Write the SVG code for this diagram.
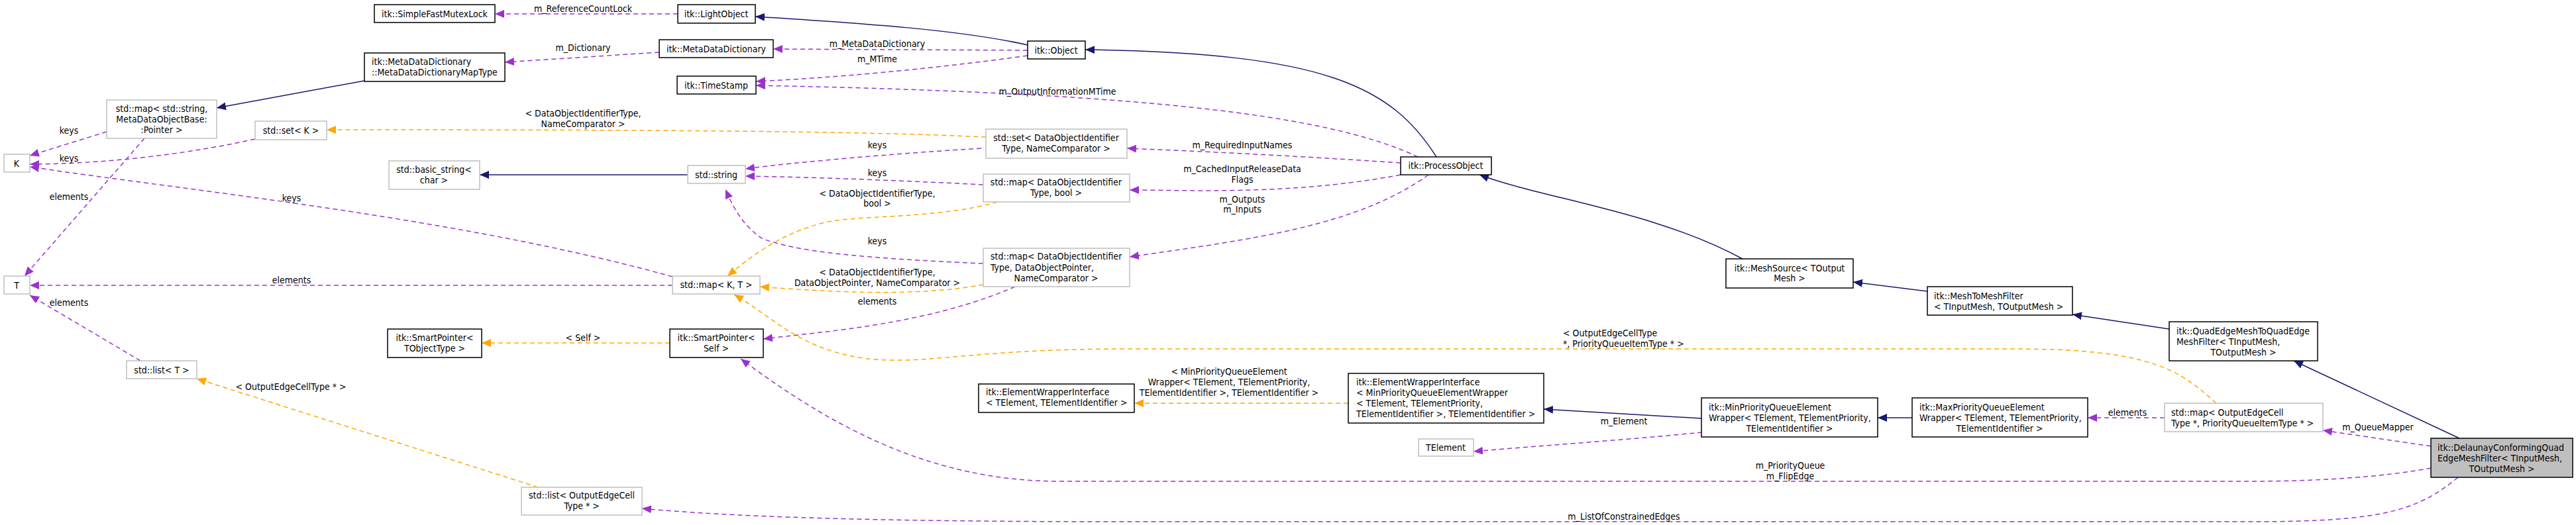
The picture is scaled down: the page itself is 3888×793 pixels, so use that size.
<svg xmlns="http://www.w3.org/2000/svg" width="3888" height="793" viewBox="0 0 3888 793">
<style>
text{font-family:"DejaVu Sans Condensed","DejaVu Sans","Liberation Sans",sans-serif;font-size:14px;fill:#000}
.c{text-anchor:middle}
.b{fill:#fff;stroke:#000;stroke-width:1.5}
.g{fill:#fff;stroke:#bfbfbf;stroke-width:1.5}
.h{fill:#bfbfbf;stroke:#000;stroke-width:1.5}
.i{fill:none;stroke:#191970;stroke-width:1.5;marker-end:url(#mi)}
.u{fill:none;stroke:#9a32cd;stroke-width:1.5;stroke-dasharray:7,5;marker-end:url(#mu)}
.t{fill:none;stroke:#ffa500;stroke-width:1.5;stroke-dasharray:7,5;marker-end:url(#mt)}
</style>
<defs>
<marker id="mi" markerUnits="userSpaceOnUse" markerWidth="15" markerHeight="12" refX="14" refY="6" orient="auto"><path d="M0,0 L14,6 L0,12 z" fill="#191970"/></marker>
<marker id="mu" markerUnits="userSpaceOnUse" markerWidth="15" markerHeight="12" refX="14" refY="6" orient="auto"><path d="M0,0 L14,6 L0,12 z" fill="#9a32cd"/></marker>
<marker id="mt" markerUnits="userSpaceOnUse" markerWidth="15" markerHeight="12" refX="14" refY="6" orient="auto"><path d="M0,0 L14,6 L0,12 z" fill="#ffa500"/></marker>
</defs>
<rect width="3888" height="793" fill="#fff"/>
<g id="edges">
<path class="u" d="M1023,21 L747,21"/><text class="c" x="880" y="18">m_ReferenceCountLock</text>
<path class="i" d="M1551,68 C1450,45 1300,35 1140,25"/>
<path class="i" d="M2168,237 C2100,130 2000,80 1638,75"/>
<path class="u" d="M1551,76 L1167,74"/><text class="c" x="1324" y="71">m_MetaDataDictionary</text>
<path class="u" d="M1551,84 C1400,105 1250,118 1141,123"/><text class="c" x="1324" y="94">m_MTime</text>
<path class="u" d="M2140,237 C2000,170 1700,140 1141,129"/><text class="c" x="1596" y="143">m_OutputInformationMTime</text>
<path class="u" d="M995,79 L762,94"/><text class="c" x="880" y="77">m_Dictionary</text>
<path class="i" d="M550,122 L327,163"/>
<path class="u" d="M161,199 L45,235"/><text class="c" x="104" y="202">keys</text>
<path class="u" d="M385,210 C250,240 120,248 45,248"/><text class="c" x="104" y="244">keys</text>
<path class="u" d="M1015,418 C700,330 300,290 45,252"/><text class="c" x="440" y="304">keys</text>
<path class="u" d="M218,209 L37,417"/><text class="c" x="104" y="302">elements</text>
<path class="u" d="M1015,431 L45,431"/><text class="c" x="440" y="428">elements</text>
<path class="u" d="M212,545 L45,446"/><text class="c" x="104" y="462">elements</text>
<path class="t" d="M1488,207 C1300,198 1000,196 493,196"/><text class="c" x="880" y="176">&lt; DataObjectIdentifierType,</text><text class="c" x="880" y="192">NameComparator &gt;</text>
<path class="i" d="M1038,264 L724,264"/>
<path class="u" d="M1481,224 C1350,232 1200,245 1125,255"/><text class="c" x="1324" y="224">keys</text>
<path class="u" d="M1484,279 C1350,272 1200,267 1125,266"/><text class="c" x="1324" y="266">keys</text>
<path class="u" d="M1484,398 C1300,390 1200,380 1150,360 C1120,340 1105,310 1095,286"/><text class="c" x="1324" y="369">keys</text>
<path class="t" d="M1505,305 C1420,330 1300,325 1250,335 C1180,350 1130,390 1098,417"/><text class="c" x="1324" y="297">&lt; DataObjectIdentifierType,</text><text class="c" x="1324" y="312">bool &gt;</text>
<path class="t" d="M1484,430 C1400,445 1300,445 1147,433"/><text class="c" x="1324" y="416">&lt; DataObjectIdentifierType,</text><text class="c" x="1324" y="432">DataObjectPointer, NameComparator &gt;</text>
<path class="u" d="M1532,433 C1400,490 1250,500 1152,512"/><text class="c" x="1324" y="460">elements</text>
<path class="t" d="M1011,518 L727,518"/><text class="c" x="880" y="515">&lt; Self &gt;</text>
<path class="u" d="M2114,246 C1950,235 1800,228 1701,224"/><text class="c" x="1875" y="224">m_RequiredInputNames</text>
<path class="u" d="M2114,264 C1950,295 1800,287 1705,287"/><text class="c" x="1875" y="260">m_CachedInputReleaseData</text><text class="c" x="1875" y="276">Flags</text>
<path class="u" d="M2156,264 C2050,340 1900,360 1705,388"/><text class="c" x="1875" y="306">m_Outputs</text><text class="c" x="1875" y="321">m_Inputs</text>
<path class="i" d="M2630,391 C2500,320 2330,300 2233,264"/>
<path class="i" d="M2909,440 L2797,426"/>
<path class="i" d="M3274,497 L3128,475"/>
<path class="i" d="M3712,662 L3462,545"/>
<path class="u" d="M3669,674 L3506,650"/><text class="c" x="3589" y="650">m_QueueMapper</text>
<path class="u" d="M3267,631 L3151,631"/><text class="c" x="3211" y="628">elements</text>
<path class="i" d="M2886,631 L2834,631"/>
<path class="i" d="M2569,632 L2330,618"/>
<path class="u" d="M2569,653 C2450,665 2300,675 2224,682"/><text class="c" x="2451" y="641">m_Element</text>
<path class="t" d="M2035,609 L1712,609"/><text class="c" x="1855" y="566">&lt; MinPriorityQueueElement</text><text class="c" x="1855" y="582">Wrapper&lt; TElement, TElementPriority,</text><text class="c" x="1855" y="598">TElementIdentifier &gt;, TElementIdentifier &gt;</text>
<path class="t" d="M3345,609 C3290,560 3250,527 3040,527 L1700,527 C1500,527 1420,545 1350,544 C1220,544 1170,480 1108,445"/><text x="2359" y="508">&lt; OutputEdgeCellType</text><text x="2359" y="524">*, PriorityQueueItemType * &gt;</text>
<path class="u" d="M3669,707 C3600,720 3500,727 3400,727 L1600,727 C1400,727 1250,640 1118,542"/><text class="c" x="2702" y="708">m_PriorityQueue</text><text class="c" x="2702" y="724">m_FlipEdge</text>
<path class="u" d="M3710,721 C3650,770 3600,788 3400,788 L1700,788 C1300,788 1100,780 969,768"/><text class="c" x="2451" y="785">m_ListOfConstrainedEdges</text>
<path class="t" d="M812,736 L297,572"/><text class="c" x="439" y="589">&lt; OutputEdgeCellType * &gt;</text>
</g>
<g id="n_mutex"><rect class="b" x="565" y="7" width="182" height="27"/><text class="c" x="656" y="26">itk::SimpleFastMutexLock</text></g>
<g id="n_light"><rect class="b" x="1023" y="7" width="117" height="28"/><text class="c" x="1081" y="26">itk::LightObject</text></g>
<g id="n_mdd"><rect class="b" x="995" y="60" width="172" height="27"/><text class="c" x="1081" y="79">itk::MetaDataDictionary</text></g>
<g id="n_ts"><rect class="b" x="1022" y="115" width="119" height="27"/><text class="c" x="1081" y="134">itk::TimeStamp</text></g>
<g id="n_obj"><rect class="b" x="1551" y="62" width="87" height="27"/><text class="c" x="1594" y="81">itk::Object</text></g>
<g id="n_maptype"><rect class="b" x="550" y="80" width="212" height="43"/><text x="561" y="98">itk::MetaDataDictionary</text><text x="561" y="114">::MetaDataDictionaryMapType</text></g>
<g id="n_mapstr"><rect class="g" x="161" y="151" width="166" height="58"/><text class="c" x="244" y="169">std::map&lt; std::string,</text><text class="c" x="244" y="185">MetaDataObjectBase:</text><text class="c" x="244" y="201">:Pointer &gt;</text></g>
<g id="n_setk"><rect class="g" x="385" y="183" width="108" height="28"/><text class="c" x="439" y="202">std::set&lt; K &gt;</text></g>
<g id="n_k"><rect class="g" x="6" y="233" width="39" height="27"/><text class="c" x="25" y="252">K</text></g>
<g id="n_basic"><rect class="g" x="587" y="243" width="137" height="43"/><text class="c" x="655" y="261">std::basic_string&lt;</text><text class="c" x="655" y="277">char &gt;</text></g>
<g id="n_string"><rect class="g" x="1038" y="250" width="87" height="27"/><text class="c" x="1081" y="269">std::string</text></g>
<g id="n_setdo"><rect class="g" x="1488" y="195" width="213" height="44"/><text class="c" x="1594" y="213">std::set&lt; DataObjectIdentifier</text><text class="c" x="1594" y="229">Type, NameComparator &gt;</text></g>
<g id="n_mapbool"><rect class="g" x="1484" y="263" width="221" height="42"/><text class="c" x="1594" y="280">std::map&lt; DataObjectIdentifier</text><text class="c" x="1594" y="296">Type, bool &gt;</text></g>
<g id="n_mapdop"><rect class="g" x="1484" y="375" width="221" height="58"/><text x="1495" y="392">std::map&lt; DataObjectIdentifier</text><text x="1495" y="409">Type, DataObjectPointer,</text><text class="c" x="1594" y="425">NameComparator &gt;</text></g>
<g id="n_po"><rect class="b" x="2114" y="237" width="137" height="27"/><text class="c" x="2182" y="255">itk::ProcessObject</text></g>
<g id="n_t"><rect class="g" x="6" y="417" width="39" height="27"/><text class="c" x="25" y="436">T</text></g>
<g id="n_mapkt"><rect class="g" x="1015" y="417" width="132" height="27"/><text class="c" x="1081" y="435">std::map&lt; K, T &gt;</text></g>
<g id="n_spself"><rect class="b" x="1011" y="497" width="141" height="43"/><text class="c" x="1081" y="515">itk::SmartPointer&lt;</text><text class="c" x="1081" y="531">Self &gt;</text></g>
<g id="n_spto"><rect class="b" x="585" y="497" width="142" height="43"/><text class="c" x="656" y="515">itk::SmartPointer&lt;</text><text class="c" x="656" y="531">TObjectType &gt;</text></g>
<g id="n_listt"><rect class="g" x="191" y="545" width="106" height="27"/><text class="c" x="244" y="564">std::list&lt; T &gt;</text></g>
<g id="n_listoe"><rect class="g" x="787" y="736" width="182" height="42"/><text class="c" x="878" y="753">std::list&lt; OutputEdgeCell</text><text class="c" x="878" y="769">Type * &gt;</text></g>
<g id="n_ewi"><rect class="b" x="1477" y="580" width="235" height="43"/><text x="1488" y="597">itk::ElementWrapperInterface</text><text x="1488" y="613">&lt; TElement, TElementIdentifier &gt;</text></g>
<g id="n_ewimin"><rect class="b" x="2035" y="564" width="295" height="75"/><text x="2047" y="582">itk::ElementWrapperInterface</text><text x="2047" y="598">&lt; MinPriorityQueueElementWrapper</text><text x="2047" y="614">&lt; TElement, TElementPriority,</text><text x="2047" y="630">TElementIdentifier &gt;, TElementIdentifier &gt;</text></g>
<g id="n_telem"><rect class="g" x="2141" y="663" width="83" height="26"/><text class="c" x="2182" y="681">TElement</text></g>
<g id="n_ms"><rect class="b" x="2605" y="391" width="192" height="44"/><text class="c" x="2701" y="410">itk::MeshSource&lt; TOutput</text><text class="c" x="2701" y="425">Mesh &gt;</text></g>
<g id="n_m2m"><rect class="b" x="2909" y="433" width="219" height="43"/><text x="2919" y="452">itk::MeshToMeshFilter</text><text x="2919" y="468">&lt; TInputMesh, TOutputMesh &gt;</text></g>
<g id="n_qe"><rect class="b" x="3274" y="486" width="224" height="59"/><text x="3285" y="505">itk::QuadEdgeMeshToQuadEdge</text><text x="3285" y="521">MeshFilter&lt; TInputMesh,</text><text class="c" x="3386" y="537">TOutputMesh &gt;</text></g>
<g id="n_min"><rect class="b" x="2568" y="601" width="266" height="59"/><text x="2579" y="620">itk::MinPriorityQueueElement</text><text x="2579" y="636">Wrapper&lt; TElement, TElementPriority,</text><text class="c" x="2701" y="652">TElementIdentifier &gt;</text></g>
<g id="n_max"><rect class="b" x="2886" y="601" width="265" height="59"/><text x="2897" y="620">itk::MaxPriorityQueueElement</text><text x="2897" y="636">Wrapper&lt; TElement, TElementPriority,</text><text class="c" x="3018" y="652">TElementIdentifier &gt;</text></g>
<g id="n_mapoe"><rect class="g" x="3267" y="609" width="239" height="43"/><text x="3277" y="628">std::map&lt; OutputEdgeCell</text><text x="3277" y="644">Type *, PriorityQueueItemType * &gt;</text></g>
<g id="n_del"><rect class="h" x="3669" y="662" width="214" height="59"/><text x="3679" y="681">itk::DelaunayConformingQuad</text><text x="3679" y="697">EdgeMeshFilter&lt; TInputMesh,</text><text class="c" x="3776" y="713">TOutputMesh &gt;</text></g>
</svg>
